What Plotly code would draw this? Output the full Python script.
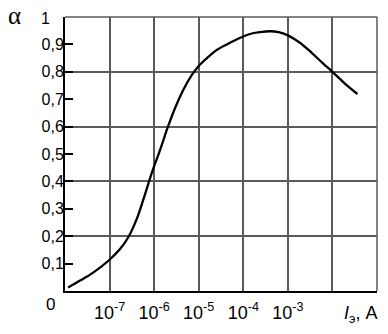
import plotly.graph_objects as go

# Emitter current I_e (A) and current transfer ratio alpha
log_current = [-7.93, -7.66, -7.36, -7.00, -6.77, -6.58, -6.39, -6.24, -6.13, -6.03,
               -5.87, -5.70, -5.53, -5.35, -5.16, -4.99, -4.78, -4.60, -4.37, -4.15,
               -3.85, -3.62, -3.40, -3.21, -3.00, -2.73, -2.47, -2.20, -2.00, -1.72, -1.44]
alpha = [0.013, 0.038, 0.068, 0.114, 0.152, 0.196, 0.263, 0.335, 0.392, 0.442,
         0.513, 0.595, 0.668, 0.733, 0.787, 0.823, 0.855, 0.879, 0.90, 0.918,
         0.938, 0.945, 0.948, 0.945, 0.933, 0.906, 0.870, 0.829, 0.80, 0.757, 0.719]
current_a = [10 ** v for v in log_current]

x_tick_vals = [1e-8, 1e-7, 1e-6, 1e-5, 1e-4, 1e-3, 1e-2, 1e-1]
x_tick_text = ["", "10<sup>-7</sup>", "10<sup>-6</sup>", "10<sup>-5</sup>",
               "10<sup>-4</sup>", "10<sup>-3</sup>", "", ""]
y_tick_vals = [0.1, 0.2, 0.3, 0.4, 0.5, 0.6, 0.7, 0.8, 0.9]
y_tick_text = ["0,1", "0,2", "0,3", "0,4", "0,5", "0,6", "0,7", "0,8", "0,9"]
y_end_labels = ["0", "1"]

FONT = "Liberation Sans Narrow, Arial Narrow, Liberation Sans, Arial, sans-serif"
GRID = "#5a5a5a"

fig = go.Figure()
fig.add_trace(go.Scatter(x=current_a, y=alpha, mode="lines", line_shape="spline",
                         line=dict(color="black", width=2.3, smoothing=1.0),
                         hoverinfo="skip", showlegend=False))
fig.add_trace(go.Scatter(x=current_a, y=alpha, mode="lines", yaxis="y2",
                         line=dict(color="rgba(0,0,0,0)", width=0), hoverinfo="skip",
                         showlegend=False))

fig.update_layout(
    width=388, height=334,
    margin=dict(l=65, r=11, t=17, b=37),
    paper_bgcolor="white", plot_bgcolor="white",
    font=dict(family=FONT, color="black"),
    xaxis=dict(type="log", range=[-8, -1], tickvals=x_tick_vals, ticktext=x_tick_text,
               showgrid=True, gridcolor=GRID, gridwidth=1.5, ticks="",
               showline=True, linecolor="black", linewidth=2,
               tickfont=dict(size=18, family=FONT), zeroline=False,
               ticklabelstandoff=4),
    yaxis=dict(range=[0, 1], tickvals=y_tick_vals, ticktext=y_tick_text,
               showgrid=False, ticks="inside", ticklen=8, tickcolor="black", tickwidth=1.5,
               showline=True, linecolor="black", linewidth=2, zeroline=False,
               tickfont=dict(size=16, family=FONT), ticklabelstandoff=-4),
    yaxis2=dict(range=[0, 1], overlaying="y", dtick=0.2, showgrid=True, gridcolor=GRID,
                gridwidth=1.5, showticklabels=False, ticks="", zeroline=False, showline=False),
)

# top and right frame lines
fig.add_shape(type="line", xref="paper", yref="paper", x0=0, x1=1, y0=1, y1=1,
              line=dict(color=GRID, width=1.5))
fig.add_shape(type="line", xref="paper", yref="paper", x0=1, x1=1, y0=0, y1=1,
              line=dict(color=GRID, width=1.5))

fig.add_annotation(x=-0.048, y=0, xref="paper", yref="paper", text=y_end_labels[0],
                   showarrow=False, font=dict(size=17, family=FONT),
                   xanchor="center", yanchor="middle", yshift=-13)
fig.add_annotation(x=-0.064, y=1, xref="paper", yref="paper", text=y_end_labels[1],
                   showarrow=False, font=dict(size=16, family=FONT),
                   xanchor="center", yanchor="middle", yshift=-1)
fig.add_annotation(x=-0.163, y=1.007, xref="paper", yref="paper", text="α",
                   showarrow=False, font=dict(size=25, family="Liberation Serif, serif"),
                   xanchor="center", yanchor="middle")
fig.add_annotation(x=1.006, y=0, xref="paper", yref="paper",
                   text="<i>I</i><sub>э</sub>, A", showarrow=False,
                   font=dict(size=18, family=FONT), xanchor="right", yanchor="middle",
                   yshift=-23)

fig.write_html("out.html", config={"displayModeBar": False},
               post_script="document.body.style.margin='0';")
